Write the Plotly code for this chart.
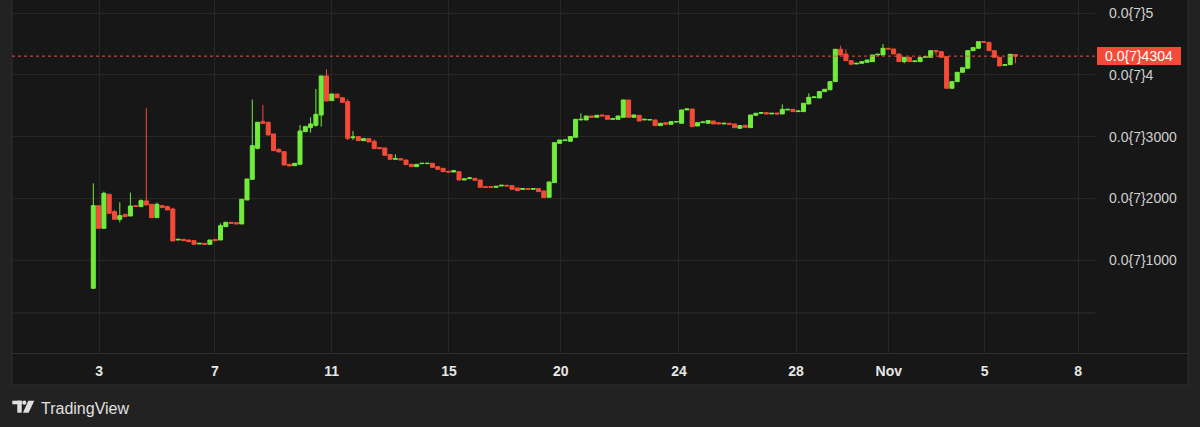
import plotly.graph_objects as go

# ---------------- data ----------------
open_ = [541, 1881, 1513, 2065, 1784, 1659, 1740, 1713, 1880, 1865,
         1957, 1903, 1686, 1881, 1865, 1827, 1324, 1335, 1324, 1314,
         1260, 1270, 1254, 1335, 1324, 1540, 1611, 1605, 1584, 1973,
         2308, 2810, 3243, 3232, 3043, 2794, 2756, 2551, 2529, 2551,
         3080, 3145, 3183, 3350, 3983, 3583, 3691, 3631, 3567, 2983,
         3000, 2934, 2967, 2924, 2821, 2816, 2708, 2632, 2643, 2621,
         2551, 2513, 2562, 2562, 2567, 2513, 2486, 2437, 2426, 2432,
         2297, 2319, 2324, 2297, 2189, 2189, 2178, 2200, 2211, 2205,
         2167, 2146, 2157, 2146, 2157, 2119, 2016, 2254, 2891, 2935,
         2924, 2989, 3270, 3270, 3334, 3313, 3351, 3340, 3280, 3280,
         3313, 3594, 3313, 3345, 3270, 3270, 3270, 3178, 3226, 3199,
         3237, 3216, 3432, 3448, 3172, 3226, 3216, 3253, 3226, 3205,
         3216, 3205, 3134, 3183, 3145, 3345, 3378, 3388, 3367, 3383,
         3367, 3432, 3442, 3405, 3405, 3529, 3632, 3626, 3729, 3760,
         3891, 4415, 4339, 4231, 4177, 4188, 4204, 4215, 4323, 4323,
         4431, 4420, 4339, 4215, 4285, 4215, 4215, 4285, 4285, 4393,
         4377, 4296, 3783, 3891, 4042, 4107, 4393, 4431, 4539, 4528,
         4393, 4285, 4155, 4166, 4330]
high = [2243, 1881, 2108, 2065, 1811, 1935, 1740, 2092, 1880, 1984,
        3459, 1903, 1930, 1881, 1880, 1849, 1335, 1335, 1324, 1314,
        1270, 1270, 1324, 1335, 1594, 1611, 1611, 1605, 1984, 2313,
        3600, 3232, 3513, 3232, 3043, 2810, 2756, 2551, 2567, 3188,
        3177, 3313, 3772, 3983, 4091, 3691, 3691, 3631, 3610, 3091,
        3000, 2967, 2967, 2956, 2821, 2816, 2708, 2713, 2643, 2621,
        2551, 2551, 2567, 2567, 2567, 2513, 2486, 2437, 2448, 2432,
        2313, 2345, 2324, 2297, 2189, 2189, 2194, 2211, 2211, 2205,
        2167, 2157, 2157, 2157, 2157, 2119, 2265, 2902, 2945, 2945,
        3000, 3280, 3378, 3334, 3334, 3345, 3351, 3340, 3291, 3334,
        3594, 3594, 3351, 3345, 3280, 3275, 3270, 3216, 3226, 3243,
        3243, 3432, 3448, 3448, 3226, 3237, 3259, 3253, 3226, 3216,
        3216, 3205, 3178, 3183, 3350, 3378, 3388, 3388, 3378, 3383,
        3523, 3442, 3442, 3415, 3540, 3702, 3648, 3729, 3767, 3891,
        4415, 4474, 4415, 4231, 4188, 4215, 4242, 4323, 4334, 4501,
        4431, 4420, 4339, 4285, 4285, 4226, 4280, 4296, 4393, 4404,
        4377, 4296, 3891, 4042, 4117, 4393, 4442, 4539, 4545, 4528,
        4393, 4285, 4166, 4334, 4340]
low = [530, 1513, 1513, 1757, 1659, 1611, 1702, 1713, 1870, 1865,
       1892, 1686, 1686, 1849, 1811, 1308, 1324, 1314, 1297, 1254,
       1260, 1254, 1254, 1314, 1324, 1540, 1594, 1584, 1584, 1973,
       2297, 2790, 3216, 3026, 2772, 2751, 2540, 2524, 2529, 2551,
       3080, 3064, 3161, 3161, 3577, 3583, 3631, 3556, 2945, 2945,
       2934, 2934, 2913, 2805, 2805, 2697, 2632, 2632, 2621, 2546,
       2513, 2513, 2562, 2562, 2502, 2470, 2432, 2426, 2426, 2297,
       2297, 2319, 2292, 2178, 2178, 2178, 2178, 2200, 2200, 2146,
       2124, 2146, 2146, 2146, 2108, 2011, 2016, 2254, 2891, 2935,
       2924, 2989, 3270, 3270, 3313, 3313, 3334, 3280, 3280, 3280,
       3313, 3313, 3313, 3253, 3270, 3270, 3178, 3178, 3199, 3199,
       3237, 3216, 3432, 3161, 3172, 3226, 3216, 3205, 3205, 3205,
       3199, 3145, 3134, 3151, 3145, 3345, 3378, 3367, 3367, 3367,
       3367, 3432, 3405, 3405, 3405, 3529, 3632, 3626, 3729, 3750,
       3891, 4323, 4231, 4172, 4177, 4188, 4204, 4215, 4323, 4323,
       4420, 4339, 4215, 4188, 4215, 4215, 4215, 4285, 4285, 4323,
       4285, 3783, 3783, 3891, 4042, 4107, 4393, 4431, 4528, 4393,
       4285, 4145, 4155, 4166, 4188]
close = [1881, 1513, 2081, 1757, 1659, 1719, 1702, 1875, 1870, 1962,
         1892, 1686, 1903, 1849, 1811, 1308, 1335, 1314, 1297, 1254,
         1270, 1254, 1324, 1314, 1557, 1611, 1594, 1584, 1984, 2313,
         2853, 3232, 3216, 3026, 2772, 2751, 2540, 2524, 2567, 3091,
         3161, 3205, 3361, 3983, 3577, 3691, 3631, 3556, 2972, 2994,
         2934, 2967, 2913, 2805, 2805, 2697, 2632, 2643, 2621, 2546,
         2513, 2551, 2567, 2567, 2502, 2470, 2432, 2426, 2448, 2297,
         2313, 2330, 2292, 2178, 2178, 2178, 2194, 2211, 2200, 2146,
         2124, 2157, 2146, 2157, 2108, 2011, 2265, 2902, 2945, 2945,
         3000, 3280, 3280, 3334, 3313, 3345, 3334, 3280, 3291, 3334,
         3594, 3313, 3351, 3253, 3280, 3275, 3178, 3216, 3199, 3243,
         3243, 3432, 3448, 3161, 3226, 3237, 3259, 3205, 3205, 3216,
         3199, 3145, 3178, 3151, 3350, 3378, 3388, 3367, 3378, 3367,
         3442, 3442, 3405, 3415, 3540, 3637, 3642, 3729, 3767, 3891,
         4415, 4323, 4231, 4172, 4188, 4215, 4242, 4323, 4334, 4431,
         4420, 4339, 4215, 4285, 4215, 4226, 4280, 4296, 4393, 4377,
         4285, 3783, 3891, 4042, 4117, 4393, 4442, 4539, 4528, 4393,
         4285, 4145, 4166, 4334, 4304]
bar_index = list(range(len(close)))

x_tick_pos = [1.08, 22.96, 44.96, 67.1, 88.2, 110.5, 132.6, 150.1, 168.2, 185.8]
x_tick_text = ["3", "7", "11", "15", "20", "24", "28", "Nov", "5", "8"]
y_tick_vals = [1000, 2000, 3000, 4000, 5000]
y_tick_text = ["0.0{7}1000", "0.0{7}2000", "0.0{7}3000", "0.0{7}4", "0.0{7}5"]
last_price = 4304
last_label = "0.0{7}4304"

# ---------------- styling ----------------
UP = "#72ec3c"
DOWN = "#f44b38"
PANE_BG = "#171717"
OUTER_BG = "#222222"
GRID = "#272727"
BORDER = "#2e2e2e"
FONT = "Liberation Sans"

W, H = 1200, 427
L, R, T, B = 12, 1095, 0, 353   # plot area in pixels


def pxx(x):
    return (x - L) / (R - L)


def pxy(y):
    return (B - y) / (B - T)


fig = go.Figure()
fig.add_trace(go.Candlestick(
    x=bar_index, open=open_, high=high, low=low, close=close,
    increasing=dict(line=dict(color=UP, width=1), fillcolor=UP),
    decreasing=dict(line=dict(color=DOWN, width=1), fillcolor=DOWN),
    whiskerwidth=0, showlegend=False, hoverinfo="skip",
))

shapes = [
    # dark chart frame
    dict(type="rect", xref="paper", yref="paper", x0=pxx(12), x1=pxx(1188),
         y0=pxy(385), y1=pxy(-2), fillcolor=PANE_BG,
         line=dict(color=BORDER, width=1), layer="below"),
    # pane separator lines
    dict(type="line", xref="paper", yref="paper", x0=0, x1=1, y0=pxy(313), y1=pxy(313),
         line=dict(color=BORDER, width=1), layer="below"),
    dict(type="line", xref="paper", yref="paper", x0=0, x1=pxx(1188), y0=pxy(353.5), y1=pxy(353.5),
         line=dict(color=BORDER, width=1), layer="below"),
    # last price dotted line
    dict(type="line", xref="paper", yref="y", x0=0, x1=pxx(1098), y0=last_price, y1=last_price,
         line=dict(color=DOWN, width=1, dash="dot")),
    # TradingView logo
    dict(type="rect", xref="paper", yref="paper", x0=pxx(12.3), x1=pxx(21.7),
         y0=pxy(404.3), y1=pxy(400.7), fillcolor="#e0e0e0", line=dict(width=0)),
    dict(type="rect", xref="paper", yref="paper", x0=pxx(17.3), x1=pxx(21.7),
         y0=pxy(412.7), y1=pxy(400.7), fillcolor="#e0e0e0", line=dict(width=0)),
    dict(type="circle", xref="paper", yref="paper", x0=pxx(22.2), x1=pxx(26.4),
         y0=pxy(404.8), y1=pxy(400.6), fillcolor="#e0e0e0", line=dict(width=0)),
    dict(type="path", xref="paper", yref="paper",
         path="M {} {} L {} {} L {} {} L {} {} Z".format(
             pxx(28.3), pxy(400.7), pxx(34.3), pxy(400.7),
             pxx(28.6), pxy(412.7), pxx(23.0), pxy(412.7)),
         fillcolor="#e0e0e0", line=dict(width=0)),
]

annotations = [
    dict(xref="paper", yref="y", x=pxx(1139), y=last_price, text=last_label,
         showarrow=False, bgcolor=DOWN, font=dict(family=FONT, size=14, color="#ffffff"),
         width=82, height=16, borderpad=1, borderwidth=0, xanchor="center", yanchor="middle"),
    dict(xref="paper", yref="paper", x=pxx(39), y=pxy(408), text="TradingView",
         showarrow=False, xanchor="left", yanchor="middle",
         font=dict(family=FONT, size=16, color="#e0e0e0")),
]

fig.update_layout(
    width=W, height=H,
    margin=dict(l=L, r=W - R, t=T, b=H - B, pad=0),
    paper_bgcolor=OUTER_BG, plot_bgcolor=PANE_BG,
    boxgap=0.2, boxgroupgap=0.05,
    shapes=shapes, annotations=annotations,
    showlegend=False,
    xaxis=dict(
        range=[(L - 93.3) / 5.3, (R - 93.3) / 5.3],
        rangeslider=dict(visible=False),
        tickmode="array", tickvals=x_tick_pos, ticktext=x_tick_text,
        showgrid=True, gridcolor=GRID, gridwidth=1, zeroline=False,
        showline=False, ticks="", ticklabelstandoff=8,
        tickfont=dict(family=FONT, size=14, color="#e6e6e6", weight="bold"),
    ),
    yaxis=dict(
        side="right",
        range=[1000 - (B - 260) / 0.0617, 1000 + (260 - T) / 0.0617],
        tickmode="array", tickvals=y_tick_vals, ticktext=y_tick_text,
        showgrid=True, gridcolor=GRID, gridwidth=1, zeroline=False,
        showline=False, ticks="", ticklabelstandoff=13,
        tickfont=dict(family=FONT, size=14, color="#d0d0d0"),
    ),
)

fig.write_html(
    "out.html",
    config={"displayModeBar": False},
    post_script="document.body.style.margin='0';document.body.style.overflow='hidden';",
)
